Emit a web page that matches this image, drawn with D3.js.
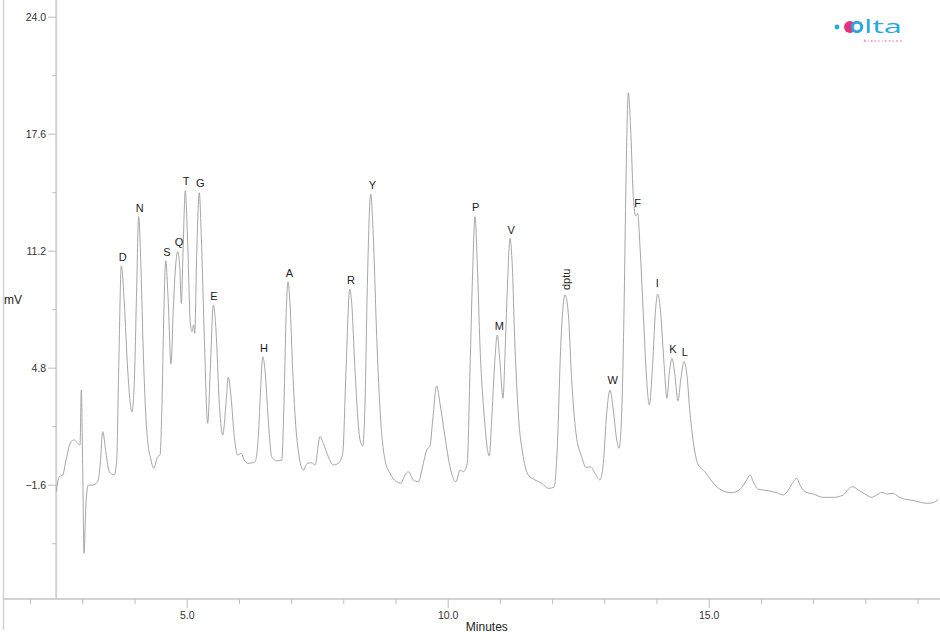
<!DOCTYPE html>
<html>
<head>
<meta charset="utf-8">
<script src="https://cdn.jsdelivr.net/npm/d3@7"></script>
<style>
  html, body { margin: 0; padding: 0; background: #fff; }
  svg { display: block; font-family: "Liberation Sans", Arial, Helvetica, sans-serif; }
</style>
</head>
<body>
<svg id="chart" width="940" height="642"></svg>
<script>
// ---- data ----
const times = [2.50,2.559,2.625,2.688,2.784,2.847,2.912,2.956,2.981,3.008,3.033,3.071,3.115,3.199,3.295,3.345,3.391,3.454,3.517,3.613,3.659,3.697,3.747,3.805,3.870,3.952,4.004,4.042,4.080,4.125,4.169,4.234,4.316,4.368,4.444,4.489,4.527,4.559,4.598,4.648,4.699,4.743,4.782,4.828,4.866,4.897,4.929,4.973,5.019,5.069,5.102,5.134,5.153,5.192,5.241,5.280,5.337,5.402,5.452,5.510,5.561,5.625,5.690,5.753,5.797,5.849,5.912,5.977,6.040,6.103,6.169,6.264,6.310,6.372,6.418,6.456,6.500,6.563,6.628,6.724,6.820,6.864,6.902,6.941,6.979,7.031,7.107,7.234,7.310,7.395,7.458,7.554,7.617,7.713,7.808,7.904,7.989,8.052,8.123,8.161,8.224,8.320,8.372,8.416,8.460,8.525,8.575,8.640,8.716,8.799,8.895,9.023,9.100,9.182,9.245,9.341,9.437,9.533,9.598,9.661,9.713,9.789,9.852,9.948,10.044,10.159,10.236,10.299,10.375,10.427,10.479,10.523,10.567,10.619,10.695,10.797,10.849,10.900,10.950,11.002,11.059,11.103,11.149,11.193,11.232,11.289,11.352,11.448,11.544,11.672,11.801,11.927,12.036,12.100,12.165,12.247,12.310,12.375,12.458,12.567,12.649,12.739,12.822,12.918,12.981,13.046,13.109,13.172,13.238,13.282,13.333,13.377,13.416,13.460,13.506,13.556,13.602,13.640,13.684,13.747,13.812,13.862,13.927,13.977,14.023,14.080,14.144,14.201,14.245,14.297,14.349,14.412,14.464,14.527,14.579,14.642,14.718,14.801,14.929,15.057,15.216,15.441,15.600,15.728,15.791,15.854,15.950,16.142,16.303,16.429,16.525,16.621,16.686,16.749,16.845,17.004,17.195,17.387,17.579,17.674,17.759,17.866,17.994,18.123,18.218,18.314,18.410,18.536,18.632,18.761,18.889,19.015,19.176,19.303,19.398];
const signal = [-1.98,-1.16,-1.07,-0.25,0.75,0.85,0.66,0.57,3.58,-0.80,-5.35,-2.60,-1.62,-1.62,-1.44,-0.41,1.30,0.13,-0.89,-1.07,-0.25,4.67,10.36,8.34,4.67,2.39,4.67,9.23,13.06,10.14,5.59,1.39,-0.25,-0.70,-0.07,0.02,2.87,7.41,10.65,8.32,5.00,7.96,10.14,11.15,10.33,8.32,11.06,14.48,11.61,7.23,6.77,7.14,6.68,11.06,14.37,11.97,6.50,1.76,4.67,8.23,6.86,2.85,1.12,2.85,4.28,3.21,1.03,0.02,0.12,-0.25,-0.43,-0.40,-0.34,1.03,3.76,5.40,4.67,1.94,-0.07,-0.30,-0.25,2.85,7.41,9.50,8.32,4.67,1.03,-0.80,-0.43,-0.40,-0.52,1.03,0.66,-0.07,-0.52,-0.43,0.12,4.67,9.09,8.32,4.67,0.85,0.52,2.85,9.23,14.30,11.97,6.50,1.94,-0.25,-0.98,-1.44,-1.52,-1.07,-0.89,-1.34,-1.44,-0.43,0.30,0.52,1.94,3.80,2.85,1.03,-0.62,-1.44,-0.80,-0.89,-0.43,4.67,10.14,13.06,10.51,5.95,2.31,-0.03,2.31,5.04,6.59,5.04,3.13,5.95,9.60,11.88,10.69,5.95,2.31,-0.07,-1.07,-1.34,-1.52,-1.80,-1.74,0.48,5.95,8.78,7.78,4.13,1.21,-0.07,-0.65,-0.62,-0.98,-1.34,-0.43,2.31,3.58,2.49,0.85,0.39,2.31,7.78,15.07,19.84,17.80,14.15,13.10,13.25,11.42,7.78,4.13,2.76,5.04,7.78,8.83,7.78,5.04,3.13,4.49,5.31,4.49,2.99,4.13,5.13,4.49,2.31,0.48,-0.52,-0.89,-1.40,-1.85,-2.04,-1.85,-1.34,-1.07,-1.44,-1.85,-1.93,-2.04,-2.16,-1.89,-1.44,-1.25,-1.62,-1.98,-2.11,-2.29,-2.29,-2.16,-1.85,-1.71,-1.89,-2.11,-2.29,-2.16,-2.02,-2.11,-2.07,-2.26,-2.40,-2.44,-2.53,-2.62,-2.58,-2.40];

const peakNames  = ["D","N","S","Q","T","G","E","H","A","R","Y","P","M","V","dptu","W","F","I","K","L"];
const peakTimes  = [3.774,4.100,4.623,4.852,4.987,5.261,5.523,6.481,6.966,8.148,8.556,10.536,10.989,11.218,12.261,13.161,13.640,14.015,14.316,14.540];
const peakLabelV = [10.64,13.34,10.91,11.46,14.79,14.71,8.53,5.66,9.76,9.38,14.58,13.37,6.86,12.14,9.05,3.91,13.59,9.19,5.63,5.44];

const yMajorTicks = [-1.6, 4.8, 11.2, 17.6, 24.0];
const yMinorTicks = [-4.8, 1.6, 8.0, 14.4, 20.8];
const xMajorTicks = [5, 10, 15];
const xMinorTicks = [2,3,4,6,7,8,9,11,12,13,14,16,17,18,19];
const xTitle = "Minutes";
const yTitle = "mV";

// ---- drawing ----
const svg = d3.select("#chart");
const x = d3.scaleLinear().domain([2, 19]).range([30.1, 917.5]);
const y = d3.scaleLinear().domain([-1.6, 24.0]).range([484.7, 16.7]);
const axisY = 599, axisX = x(2.5);
const axisColor = "#d2d2d2";

// left frame line
svg.append("line").attr("x1", 3.5).attr("x2", 3.5).attr("y1", 0).attr("y2", 630)
  .attr("stroke", axisColor).attr("stroke-width", 1.5);

// x axis
const gx = svg.append("g").attr("transform", `translate(0,${axisY})`);
gx.append("line").attr("x1", 3.5).attr("x2", 940).attr("stroke", axisColor).attr("stroke-width", 2);
const xMaj = d3.axisBottom(x).tickValues(xMajorTicks).tickFormat(d3.format(".1f")).tickSize(9).tickPadding(4);
const xMin = d3.axisBottom(x).tickValues(xMinorTicks).tickFormat("").tickSize(5);
const gxMin = gx.append("g").call(xMin);
const gxMaj = gx.append("g").call(xMaj);
[gxMin, gxMaj].forEach(g => {
  g.select(".domain").remove();
  g.selectAll(".tick line").attr("stroke", "#bdbdbd");
  g.selectAll(".tick text").attr("fill", "#333").style("font-size", "10.5px")
   .style("font-family", '"Liberation Sans", Arial, sans-serif');
});

// y axis
const gy = svg.append("g").attr("transform", `translate(${axisX},0)`);
gy.append("line").attr("y1", 0).attr("y2", axisY).attr("stroke", axisColor).attr("stroke-width", 2);
const yMaj = d3.axisLeft(y).tickValues(yMajorTicks).tickFormat(d3.format(".1f")).tickSize(8).tickPadding(2);
const yMin = d3.axisLeft(y).tickValues(yMinorTicks).tickFormat("").tickSize(4);
const gyMin = gy.append("g").call(yMin);
const gyMaj = gy.append("g").call(yMaj);
[gyMin, gyMaj].forEach(g => {
  g.select(".domain").remove();
  g.selectAll(".tick line").attr("stroke", "#bdbdbd");
  g.selectAll(".tick text").attr("fill", "#333").style("font-size", "10.5px")
   .style("font-family", '"Liberation Sans", Arial, sans-serif');
});

// axis titles
svg.append("text").attr("x", x(10.75)).attr("y", 631).attr("text-anchor", "middle")
  .attr("fill", "#222").style("font-size", "12px").text(xTitle);
svg.append("text").attr("x", 4).attr("y", 304).attr("text-anchor", "start")
  .attr("fill", "#222").style("font-size", "12px").text(yTitle);

// trace
const pts = times.map((t, i) => [t, signal[i]]);
const line = d3.line().x(d => x(d[0])).y(d => y(d[1])).curve(d3.curveMonotoneX);
svg.append("path").datum(pts).attr("d", line)
  .attr("fill", "none").attr("stroke", "#a6a6a6").attr("stroke-width", 1);

// peak labels
peakNames.forEach((name, i) => {
  const px = x(peakTimes[i]), py = y(peakLabelV[i]);
  if (name === "dptu") {
    svg.append("text")
      .attr("transform", `translate(${px + 4},${py}) rotate(-90)`)
      .attr("text-anchor", "start")
      .attr("fill", "#222").style("font-size", "11px").text(name);
  } else {
    svg.append("text").attr("x", px).attr("y", py).attr("text-anchor", "middle")
      .attr("fill", "#222").style("font-size", "11px").text(name);
  }
});

// logo
const logo = svg.append("g");
logo.append("circle").attr("cx", 837).attr("cy", 27).attr("r", 2.4).attr("fill", "#2aa7df");
logo.append("circle").attr("cx", 850).attr("cy", 27).attr("r", 6).attr("fill", "#e6327c");
logo.append("circle").attr("cx", 857).attr("cy", 27).attr("r", 6.2).attr("fill", "#2aa7df");
logo.append("circle").attr("cx", 857).attr("cy", 27).attr("r", 3.2).attr("fill", "#ffffff");
logo.append("text").attr("x", 864).attr("y", 33).attr("fill", "#2aa7df")
  .style("font-size", "18px").style("font-family", '"Open Sans", Lato, sans-serif').style("font-weight", 400)
  .attr("textLength", 38).attr("lengthAdjust", "spacingAndGlyphs")
  .text("lta");
logo.append("text").attr("x", 864).attr("y", 41.5).attr("fill", "#e6327c")
  .style("font-size", "3.5px").attr("textLength", 38).text("biosciences");
</script>
</body>
</html>
